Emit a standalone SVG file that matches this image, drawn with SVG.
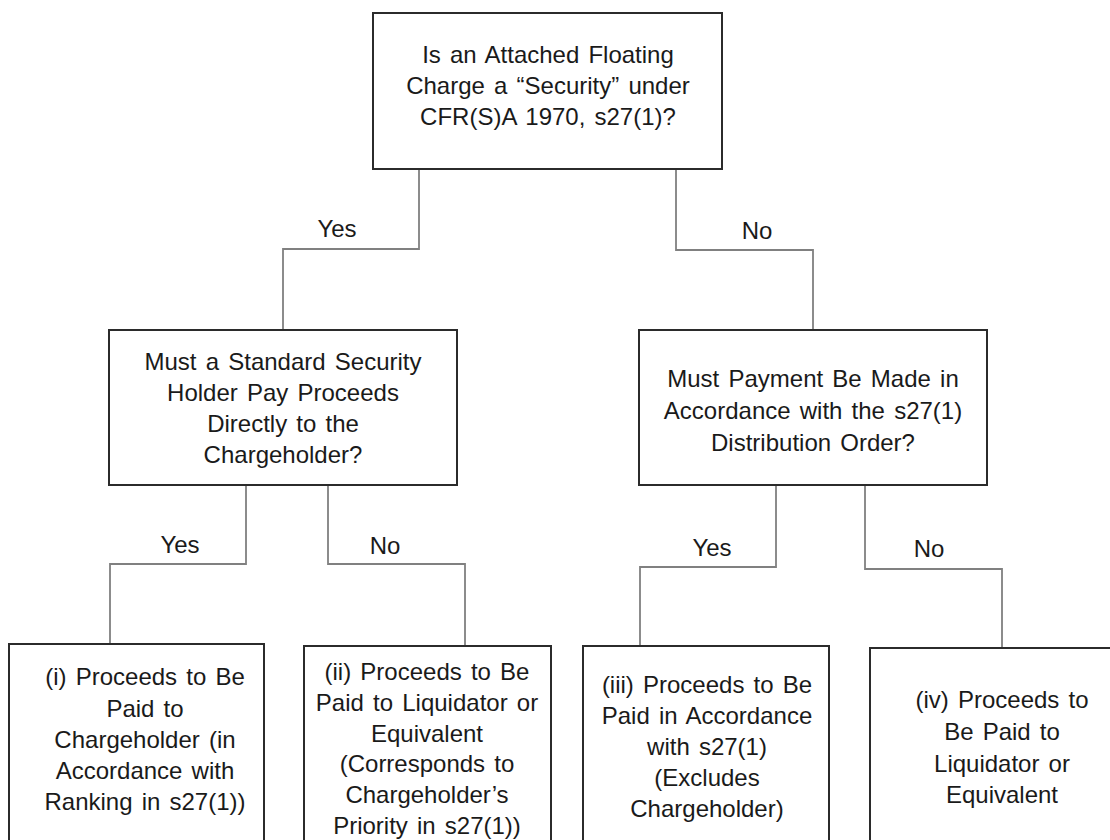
<svg xmlns="http://www.w3.org/2000/svg" width="1110" height="840" viewBox="0 0 1110 840">
<style>
.box{fill:#fff;stroke:#2b2b2b;stroke-width:2}
.conn{fill:none;stroke:#808080;stroke-width:1.8}
text{font-family:"Liberation Sans",Arial,sans-serif;font-size:24px;fill:#1a1a1a;text-anchor:middle;word-spacing:2.5px}
</style>
<rect width="1110" height="840" fill="#fff"/>
<g id="connectors">
<path class="conn" d="M419 169 V249 H283 V330"/>
<path class="conn" d="M676 169 V250 H813 V330"/>
<path class="conn" d="M246 485 V564 H110 V644"/>
<path class="conn" d="M328 485 V564 H465 V646"/>
<path class="conn" d="M776 485 V567 H640 V646"/>
<path class="conn" d="M865 485 V569 H1002 V648"/>
<text x="337" y="237">Yes</text>
<text x="757" y="239">No</text>
<text x="180" y="553">Yes</text>
<text x="385" y="554">No</text>
<text x="712" y="556">Yes</text>
<text x="929" y="557">No</text>
</g>
<g id="q1">
<rect class="box" x="373" y="13" width="349" height="156"/>
<text x="548" y="63">Is an Attached Floating</text>
<text x="548" y="94">Charge a “Security” under</text>
<text x="548" y="125">CFR(S)A 1970, s27(1)?</text>
</g>
<g id="q2">
<rect class="box" x="109" y="330" width="348" height="155"/>
<text x="283" y="370">Must a Standard Security</text>
<text x="283" y="401">Holder Pay Proceeds</text>
<text x="283" y="432">Directly to the</text>
<text x="283" y="463">Chargeholder?</text>
</g>
<g id="q3">
<rect class="box" x="639" y="330" width="348" height="155"/>
<text x="813" y="387">Must Payment Be Made in</text>
<text x="813" y="419">Accordance with the s27(1)</text>
<text x="813" y="451">Distribution Order?</text>
</g>
<g id="r1">
<rect class="box" x="9" y="644" width="255" height="220"/>
<text x="145" y="685">(i) Proceeds to Be</text>
<text x="145" y="717">Paid to</text>
<text x="145" y="748">Chargeholder (in</text>
<text x="145" y="779">Accordance with</text>
<text x="145" y="810">Ranking in s27(1))</text>
</g>
<g id="r2">
<rect class="box" x="304" y="646" width="247" height="220"/>
<text x="427" y="680">(ii) Proceeds to Be</text>
<text x="427" y="711">Paid to Liquidator or</text>
<text x="427" y="742">Equivalent</text>
<text x="427" y="772">(Corresponds to</text>
<text x="427" y="803">Chargeholder’s</text>
<text x="427" y="834">Priority in s27(1))</text>
</g>
<g id="r3">
<rect class="box" x="583" y="646" width="246" height="220"/>
<text x="707" y="693">(iii) Proceeds to Be</text>
<text x="707" y="724">Paid in Accordance</text>
<text x="707" y="755">with s27(1)</text>
<text x="707" y="786">(Excludes</text>
<text x="707" y="817">Chargeholder)</text>
</g>
<g id="r4">
<rect class="box" x="870" y="648" width="260" height="220"/>
<text x="1002" y="708">(iv) Proceeds to</text>
<text x="1002" y="740">Be Paid to</text>
<text x="1002" y="772">Liquidator or</text>
<text x="1002" y="803">Equivalent</text>
</g>
</svg>
